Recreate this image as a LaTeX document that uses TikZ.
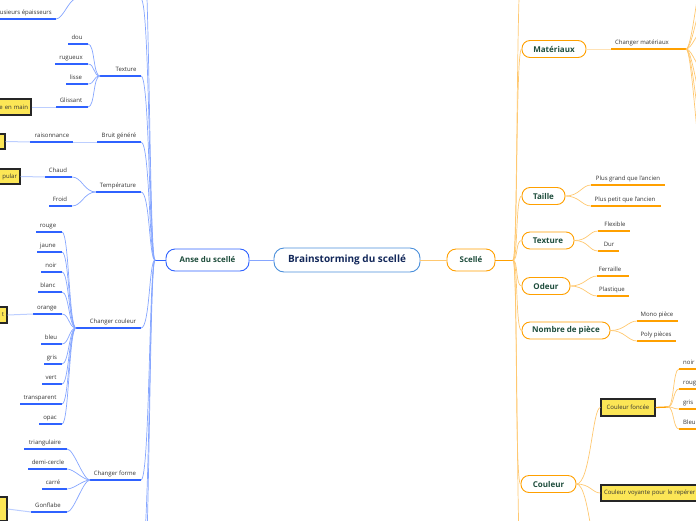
\documentclass[tikz,border=0pt]{standalone}
\usepackage{fontspec}
\setmainfont{Open Sans}
\definecolor{bstrong}{HTML}{2F62FF}
\definecolor{blight}{HTML}{86A6FF}
\definecolor{bpale}{HTML}{BCCEFF}
\definecolor{ostrong}{HTML}{FFA000}
\definecolor{olight}{HTML}{FFC870}
\definecolor{opale}{HTML}{FFE2B5}
\definecolor{ttxt}{HTML}{1E4D3C}
\definecolor{navy}{HTML}{13285A}
\definecolor{cblue}{HTML}{4A8FDB}
\definecolor{yfill}{HTML}{FCE656}
\definecolor{lbltxt}{HTML}{333333}
\tikzset{
  lbl/.style={font=\fontsize{6}{7}\selectfont, text=lbltxt, inner sep=0pt, anchor=base},
  bunder/.style={draw=bstrong, line width=1.3pt},
  bcurve/.style={draw=blight, line width=0.7pt},
  bfaint/.style={draw=bpale, line width=1pt},
  ounder/.style={draw=ostrong, line width=1.3pt},
  ocurve/.style={draw=olight, line width=0.7pt},
  ofaint/.style={draw=opale, line width=1pt},
  topic/.style={rounded corners=8pt, draw=ostrong, line width=0.9pt, fill=white,
    font=\bfseries\fontsize{8}{9}\selectfont, text=ttxt, inner sep=0pt, minimum height=17pt},
  ybox/.style={fill=yfill, draw=black!85, line width=1.2pt, rectangle,
    font=\fontsize{6}{7}\selectfont, text=lbltxt, inner xsep=3pt, inner ysep=0pt},
}
\newcommand\uleaf[7]{%
  \coordinate (#2-l) at (#3,#5);
  \coordinate (#2-r) at (#4,#5);
  \draw[#1] (#2-l) -- (#2-r);
  \node[lbl] (#2) at (#6,{#5-5}) {#7};
}
\newcommand\cvl[2]{\draw[bcurve] (#1) .. controls +(7,0) and +(-7,0) .. (#2);}
\begin{document}
\begin{tikzpicture}[x=1pt,y=-1pt]
\useasboundingbox (0,0) rectangle (696,520);
\clip (0,0) rectangle (696,520);

% ---------- centre ----------
\node[draw=cblue, line width=0.9pt, rounded corners=10pt, minimum width=146pt, minimum height=24pt,
  inner sep=0pt, font=\bfseries\fontsize{10}{12}\selectfont, text=navy, fill=white] (central) at (347,260) {Brainstorming du scellé};
\node[draw=bstrong, line width=0.9pt, rounded corners=9pt, minimum width=83pt, minimum height=22pt,
  inner sep=0pt, font=\bfseries\fontsize{7.9}{9}\selectfont, text=ttxt, fill=white] (anse) at (207.5,260) {Anse du scellé};
\node[draw=ostrong, line width=0.9pt, rounded corners=9pt, minimum width=48pt, minimum height=22pt,
  inner sep=0pt, font=\bfseries\fontsize{7.9}{9}\selectfont, text=ttxt, fill=white] (scelle) at (471,260) {Scellé};
\draw[draw=blight, line width=0.9pt] (anse.east) -- (central.west);
\draw[draw=olight, line width=0.9pt] (central.east) -- (scelle.west);

% ---------- left side ----------
\coordinate (lhub) at (155,260);
\draw[draw=bstrong, line width=1pt] (lhub) -- (anse.west);

\uleaf{bunder}{top}{76}{141}{-1}{110}{}
\uleaf{bunder}{epais}{-20}{56}{19}{20}{}
\node[lbl, anchor=base east] (epaist) at (52,14) {plusieurs épaisseurs};
\cvl{epais-r}{top-l}

\uleaf{bunder}{texture}{100}{141}{76}{126}{Texture}
\uleaf{bunder}{dou}{68}{88}{44}{77}{dou}
\uleaf{bunder}{rugueux}{55}{88}{64}{71}{rugueux}
\uleaf{bunder}{lisse}{66}{88}{84}{76}{lisse}
\uleaf{bunder}{glissant}{56}{88}{107}{71}{Glissant}
\foreach \c in {dou,rugueux,lisse,glissant} {\cvl{\c-r}{texture-l}}
\node[ybox, text width=52pt, align=right, minimum height=16pt] (ybox1) at (2,107) {e en main};
\draw[bfaint] (ybox1.east) -- (glissant-l);

\uleaf{bunder}{bruit}{97}{141}{142}{119}{Bruit généré}
\uleaf{bunder}{rais}{30}{73}{142}{52}{raisonnance}
\draw[bfaint] (rais-r) -- (bruit-l);
\node[ybox, minimum width=40pt, minimum height=15pt] (ybox2) at (-15,141.5) {};
\draw[bfaint] (ybox2.east) -- (rais-l);

\uleaf{bunder}{temp}{96}{141}{192}{118}{Température}
\uleaf{bunder}{chaud}{45}{72}{177}{58}{Chaud}
\uleaf{bunder}{froid}{49}{72}{206}{60}{Froid}
\draw[bcurve] (chaud-r) .. controls +(10,0) and +(-12,0) .. (temp-l);
\draw[bcurve] (froid-r) .. controls +(10,0) and +(-12,0) .. (temp-l);
\node[ybox, text width=44pt, align=right, minimum height=15pt] (ybox3) at (-5,176.5) {pular};
\draw[bfaint] (ybox3.east) -- (chaud-l);

\uleaf{bunder}{couleur}{76}{141}{328}{113}{Changer couleur}
\uleaf{bunder}{rouge}{36}{62}{232}{48}{rouge}
\uleaf{bunder}{jaune}{37}{62}{252}{48}{jaune}
\uleaf{bunder}{noir}{41}{62}{272}{51}{noir}
\uleaf{bunder}{blanc}{38}{62}{292}{48}{blanc}
\uleaf{bunder}{orange}{33}{62}{314}{47}{orange}
\uleaf{bunder}{bleu}{41}{62}{344}{51}{bleu}
\uleaf{bunder}{gris}{44}{62}{364}{52}{gris}
\uleaf{bunder}{vert}{42}{62}{384}{51}{vert}
\uleaf{bunder}{transp}{20}{62}{404}{40}{transparent}
\uleaf{bunder}{opac}{39}{62}{424}{50}{opac}
\foreach \c in {rouge,jaune,noir,blanc,orange,bleu,gris,vert,transp,opac} {\cvl{\c-r}{couleur-l}}
\node[ybox, text width=34pt, align=right, minimum height=16pt] (ybox4) at (-13,315) {t};
\draw[bfaint] (ybox4.east) -- (orange-l);

\uleaf{bunder}{forme}{90}{141}{480}{115}{Changer forme}
\uleaf{bunder}{tri}{24}{67}{449}{45}{triangulaire}
\uleaf{bunder}{demi}{28}{67}{469}{48}{demi-cercle}
\uleaf{bunder}{carre}{42}{67}{489}{53}{carré}
\uleaf{bunder}{gonfl}{31}{67}{512}{48}{Gonflabe}
\foreach \c in {tri,demi,carre,gonfl} {\cvl{\c-r}{forme-l}}
\node[ybox, minimum width=40pt, minimum height=24pt] (ybox5) at (-13,509) {};
\draw[bfaint] (ybox5.east) -- (gonfl-l);

\uleaf{bunder}{below1}{100}{141}{560}{120}{}
\uleaf{bunder}{below2}{100}{141}{620}{120}{}
\coordinate (above2) at (141,-80);

\foreach \c in {top,texture,bruit,temp,couleur,forme,below1,below2}
  {\draw[bcurve] (\c-r) .. controls +(9,0) and +(-6,0) .. (lhub);}
\draw[bcurve] (above2) .. controls +(9,0) and +(-6,0) .. (lhub);

% ---------- right side ----------
\coordinate (rhub) at (513,260);
\draw[draw=ostrong, line width=1pt] (scelle.east) -- (rhub);

\node[topic, minimum width=64pt] (mat) at (554,49) {Matériaux};
\node[topic, minimum width=43pt] (taille) at (543.5,196) {Taille};
\node[topic, minimum width=52pt] (textr) at (548,240.5) {Texture};
\node[topic, minimum width=48pt] (odeur) at (546,286) {Odeur};
\node[topic, minimum width=88pt] (nombre) at (566,330.5) {Nombre de pièce};
\node[topic, minimum width=55pt] (coul) at (548.5,484) {Couleur};
\coordinate (rabove) at (522,-40);
\coordinate (rbelow) at (522,580);
\foreach \c in {mat,taille,textr,odeur,nombre,coul}
  {\draw[ocurve] (rhub) .. controls +(5,0) and +(-6,0) .. (\c.west);}
\draw[ocurve] (rhub) .. controls +(5,0) and +(-6,0) .. (rabove);
\draw[ocurve] (rhub) .. controls +(5,0) and +(-6,0) .. (rbelow);

\uleaf{ounder}{chm}{611}{686}{49}{642}{Changer matériaux}
\draw[ofaint] (mat.east) -- (chm-l);
\foreach \yy [count=\i] in {-20,5,30,70,100,130,165}
  {\coordinate (mf\i) at (702,\yy);
   \draw[ocurve] (chm-r) .. controls +(6,0) and +(-4,0) .. (mf\i);}

\uleaf{ounder}{pg}{591}{665}{185}{628}{Plus grand que l'ancien}
\uleaf{ounder}{pp}{591}{661}{206}{625}{Plus petit que l'ancien}
\draw[ocurve] (taille.east) .. controls +(14,0) and +(-9,0) .. (pg-l);
\draw[ocurve] (taille.east) .. controls +(14,0) and +(-9,0) .. (pp-l);

\uleaf{ounder}{flex}{598}{630}{231}{615}{Flexible}
\uleaf{ounder}{dur}{598}{619}{251}{609}{Dur}
\draw[ocurve] (textr.east) .. controls +(14,0) and +(-9,0) .. (flex-l);
\draw[ocurve] (textr.east) .. controls +(14,0) and +(-9,0) .. (dur-l);

\uleaf{ounder}{fer}{597}{629}{276}{610}{Ferraille}
\uleaf{ounder}{plast}{597}{629}{296}{612}{Plastique}
\draw[ocurve] (odeur.east) .. controls +(14,0) and +(-9,0) .. (fer-l);
\draw[ocurve] (odeur.east) .. controls +(14,0) and +(-9,0) .. (plast-l);

\uleaf{ounder}{mono}{637}{678}{321}{657}{Mono pièce}
\uleaf{ounder}{poly}{637}{676}{341}{656}{Poly pièces}
\draw[ocurve] (nombre.east) .. controls +(14,0) and +(-9,0) .. (mono-l);
\draw[ocurve] (nombre.east) .. controls +(14,0) and +(-9,0) .. (poly-l);

\node[ybox, minimum width=54pt, minimum height=17pt] (cf) at (628,407.5) {Couleur foncée};
\node[ybox, text width=124pt, align=left, minimum height=16pt] (cvoy) at (666,493) {Couleur voyante pour le repérer};
\coordinate (cbelow) at (602,580);
\draw[ocurve] (coul.east) .. controls +(14,0) and +(-8,0) .. (cf.west);
\draw[ocurve] (coul.east) .. controls +(14,0) and +(-8,0) .. (cvoy.west);
\draw[ocurve] (coul.east) .. controls +(14,0) and +(-8,0) .. (cbelow);

\coordinate (cfs) at (668,407);
\draw[draw=ostrong, line width=1.3pt] (cf.east) -- (cfs);
\foreach \n/\t/\yy in {cn/noir/369, cr/rouge/389, cg/gris/409, cb/Bleu/429} {
  \coordinate (\n-l) at (679,\yy);
  \coordinate (\n-r) at (700,\yy);
  \draw[ounder] (\n-l) -- (\n-r);
  \node[lbl, anchor=base west] (\n) at (683,{\yy-5}) {\t};
  \draw[ocurve] (cfs) .. controls +(6,0) and +(-6,0) .. (\n-l);
}
\end{tikzpicture}
\end{document}
